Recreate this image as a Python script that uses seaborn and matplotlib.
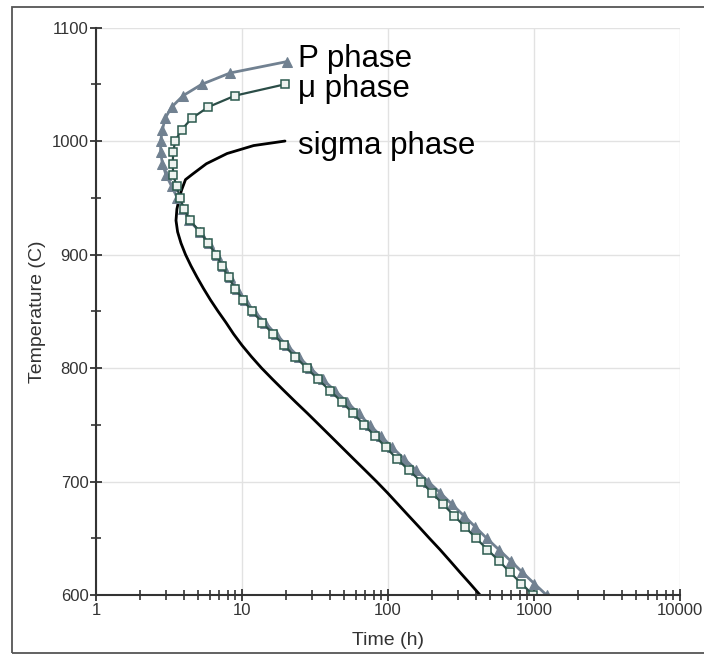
import matplotlib
matplotlib.use("Agg")
import matplotlib.pyplot as plt
from matplotlib.patches import Rectangle
from matplotlib.ticker import FixedLocator, FixedFormatter, LogLocator, MultipleLocator, NullFormatter
import pandas as pd
import seaborn as sns

# TTT curves: temperature (C) and start time (h)
temp_p = [1070, 1060, 1050, 1040, 1030, 1020, 1010, 1000, 990, 980, 970, 960,
          950, 940, 930, 920, 910, 900, 890, 880, 870, 860, 850, 840, 830, 820,
          810, 800, 790, 780, 770, 760, 750, 740, 730, 720, 710, 700, 690, 680,
          670, 660, 650, 640, 630, 620, 610, 600]
time_p = [20.3, 8.3, 5.3, 3.95, 3.3, 2.97, 2.85, 2.77, 2.77, 2.85, 3.02, 3.3,
          3.6, 3.95, 4.35, 5.15, 5.9, 6.75, 7.45, 8.3, 9.25, 10.5, 12.1, 14.4, 17.0, 20.3,
          24.4, 29.2, 35.6, 43.4, 52.4, 62.8, 74.7, 89.6, 107, 129, 156, 188, 228, 274,
          330, 396, 474, 574, 693, 832, 1005, 1218]

temp_mu = [1050, 1040, 1030, 1020, 1010, 1000, 990, 980, 970, 960,
           950, 940, 930, 920, 910, 900, 890, 880, 870, 860, 850, 840, 830, 820,
           810, 800, 790, 780, 770, 760, 750, 740, 730, 720, 710, 700, 690, 680,
           670, 660, 650, 640, 630, 620, 610, 600]
time_mu = [19.7, 8.96, 5.88, 4.52, 3.86, 3.48, 3.38, 3.35, 3.38, 3.57,
           3.76, 4.01, 4.40, 5.16, 5.85, 6.64, 7.29, 8.08, 8.96, 10.2, 11.7, 13.8, 16.3, 19.4,
           23.1, 27.7, 33.2, 40.1, 48.4, 57.6, 68.5, 81.5, 96.9, 115, 139, 168, 200, 238,
           283, 337, 401, 480, 576, 685, 821, 985]

temp_sigma = [1000, 996, 989, 980, 971, 966, 957, 950, 940, 930, 920, 910, 900, 890, 880,
              870, 860, 850, 840, 830, 820, 810, 800, 790, 780, 770, 760, 750,
              740, 730, 720, 710, 700, 690, 680, 670, 660, 650, 640, 630, 620, 610, 600]
time_sigma = [19.7, 12.0, 7.9, 5.7, 4.6, 4.1, 3.86, 3.72, 3.58, 3.53, 3.62, 3.82, 4.10, 4.47, 4.92,
              5.45, 6.08, 6.85, 7.77, 8.75, 10.0, 11.6, 13.6, 16.2, 19.4, 23.3, 28.1, 33.7,
              40.4, 48.4, 58.0, 69.6, 83.4, 99.2, 117, 138, 163, 192, 227, 266, 311, 365, 427]

x_ticks = [1, 10, 100, 1000, 10000]
x_labels = ['1', '10', '100', '1000', '10000']
y_ticks = [600, 700, 800, 900, 1000, 1100]

df_p = pd.DataFrame({'time': time_p, 'temp': temp_p})
df_mu = pd.DataFrame({'time': time_mu, 'temp': temp_mu})
df_sigma = pd.DataFrame({'time': time_sigma, 'temp': temp_sigma})

sns.set_style("white")
plt.rcParams['font.family'] = ['Liberation Sans', 'DejaVu Sans']

fig = plt.figure(figsize=(7.04, 6.56), dpi=100)
ax = fig.add_axes([0.1364, 0.0930, 0.8295, 0.865])

# outer frame (right side runs off the picture)
fig.add_artist(Rectangle((12 / 704, 3 / 656), 1.0, 646 / 656, transform=fig.transFigure,
                         fill=False, edgecolor='#555555', lw=1.3))

ax.set_xscale('log')
sns.lineplot(data=df_sigma, x='time', y='temp', sort=False, estimator=None,
             color='black', lw=2, ax=ax)
sns.lineplot(data=df_p, x='time', y='temp', sort=False, estimator=None,
             color='#718191', lw=2, marker='^', markersize=7,
             markeredgecolor='#718191', ax=ax)
sns.lineplot(data=df_mu, x='time', y='temp', sort=False, estimator=None,
             color='#2b4d47', lw=1.6, marker='s', markersize=6,
             markerfacecolor='#eef3f0', markeredgecolor='#2b5a4e', markeredgewidth=1.1, ax=ax)

ax.set_xlim(1, 10000)
ax.set_ylim(600, 1100)
ax.xaxis.set_major_locator(FixedLocator(x_ticks))
ax.xaxis.set_major_formatter(FixedFormatter(x_labels))
ax.xaxis.set_minor_locator(LogLocator(base=10, subs=range(2, 10)))
ax.xaxis.set_minor_formatter(NullFormatter())
ax.yaxis.set_major_locator(FixedLocator(y_ticks))
ax.yaxis.set_minor_locator(MultipleLocator(50))

ax.grid(True, which='major', color='#e2e2e2', lw=1)
ax.set_axisbelow(True)
for s in ['top', 'right']:
    ax.spines[s].set_visible(False)
for s in ['left', 'bottom']:
    ax.spines[s].set_color('#333333')
    ax.spines[s].set_linewidth(1.5)
ax.tick_params(which='both', bottom=True, left=True, top=False, right=False)
ax.tick_params(which='major', direction='inout', length=9, width=1.3, color='#333333',
               labelsize=12, labelcolor='#333333', pad=1)
ax.tick_params(which='minor', direction='inout', length=7, width=1.2, color='#333333')

ax.set_xlabel('Time (h)', fontsize=14, color='#333333', labelpad=10)
ax.set_ylabel('Temperature (C)', fontsize=14, color='#333333', labelpad=4)

ax.text(24.2, 1065.5, 'P phase', fontsize=22.5, va='baseline', color='black')
ax.text(24.2, 1039, 'μ phase', fontsize=22.5, va='baseline', color='black')
ax.text(24.2, 989, 'sigma phase', fontsize=22.5, va='baseline', color='black')

fig.savefig('out.png', dpi=100)
